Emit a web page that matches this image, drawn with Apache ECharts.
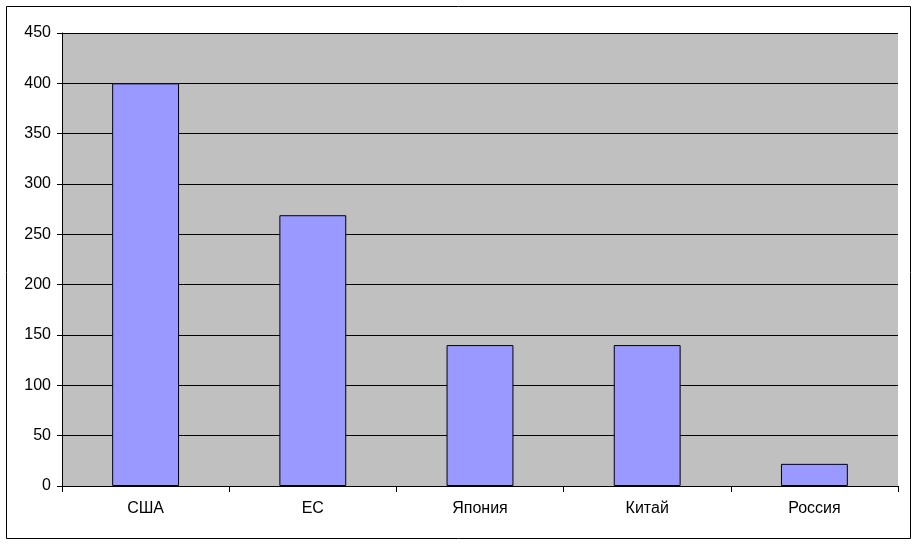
<!DOCTYPE html>
<html><head><meta charset="utf-8">
<script src="https://cdn.jsdelivr.net/npm/echarts@6/dist/echarts.min.js"></script>
<style>html,body{margin:0;padding:0;background:#fff}#c{width:918px;height:545px}</style>
</head><body><div id="c"></div>
<script>
const categories = ['США', 'ЕС', 'Япония', 'Китай', 'Россия'];
const values = [400, 269, 140, 140, 22];
const yMin = 0, yMax = 450, yStep = 50;

const chart = echarts.init(document.getElementById('c'), null, {renderer: 'canvas'});
chart.setOption({
  animation: false,
  backgroundColor: '#ffffff',
  graphic: [{
    type: 'rect', silent: true, z: -10,
    shape: {x: 6.5, y: 6.5, width: 904, height: 532},
    style: {fill: 'none', stroke: '#000', lineWidth: 1}
  }],
  grid: {left: 62, right: 20, top: 33, bottom: 59, show: true, backgroundColor: '#c0c0c0', borderColor: '#a0a0a0', borderWidth: 0},
  xAxis: {
    type: 'category', data: categories,
    axisLine: {lineStyle: {color: '#000', width: 1}},
    axisTick: {show: true, inside: false, length: 6, alignWithLabel: false, lineStyle: {color: '#000'}},
    axisLabel: {color: '#000', fontFamily: 'Liberation Sans', fontSize: 16, margin: 15}
  },
  yAxis: {
    type: 'value', min: yMin, max: yMax, interval: yStep,
    axisLine: {show: true, lineStyle: {color: '#000', width: 1}},
    axisTick: {show: true, length: 5, lineStyle: {color: '#000'}},
    axisLabel: {color: '#000', fontFamily: 'Liberation Sans', fontSize: 16, margin: 11},
    splitLine: {show: true, lineStyle: {color: '#000', width: 1}}
  },
  series: [{
    type: 'bar', data: values, barWidth: '40%',
    itemStyle: {color: '#9999ff', borderColor: '#000', borderWidth: 1}
  }]
});
</script></body></html>
